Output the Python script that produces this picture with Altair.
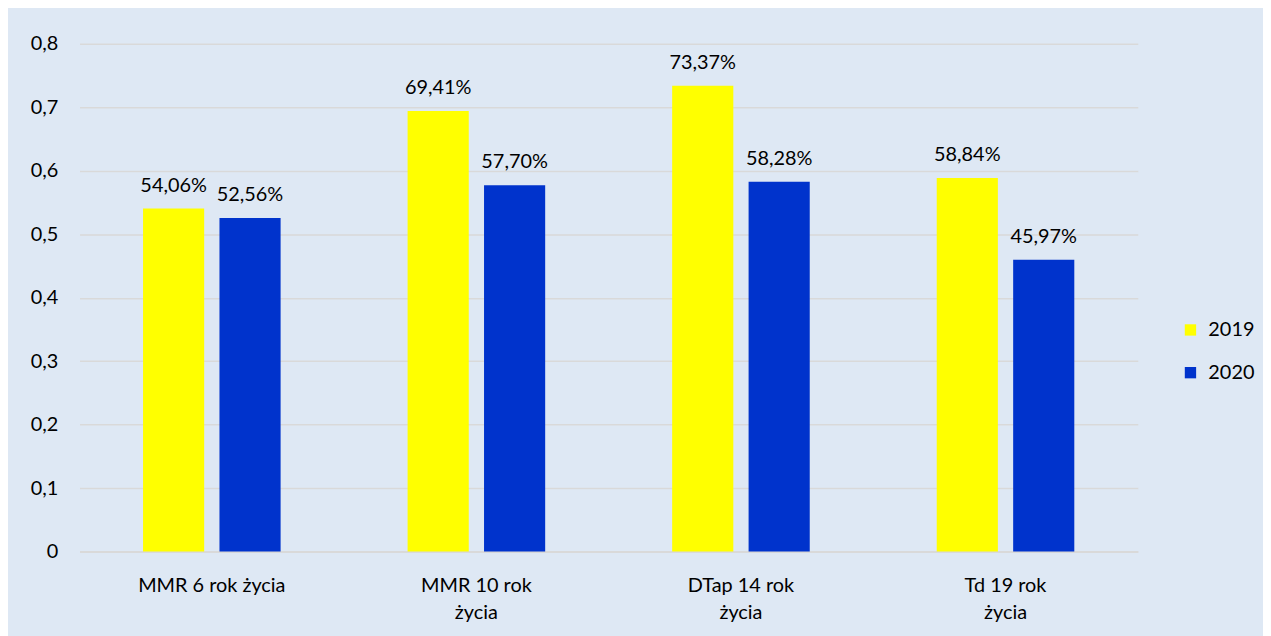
import altair as alt
import pandas as pd

categories = ["MMR 6 rok życia", "MMR 10 rok\nżycia", "DTap 14 rok\nżycia", "Td 19 rok\nżycia"]
years = ["2019", "2020"]
values_2019 = [0.5406, 0.6941, 0.7337, 0.5884]
values_2020 = [0.5256, 0.5770, 0.5828, 0.4597]
y_ticks = [0, 0.1, 0.2, 0.3, 0.4, 0.5, 0.6, 0.7, 0.8]

rows = []
for c, a, b in zip(categories, values_2019, values_2020):
    for yr, v in (("2019", a), ("2020", b)):
        rows.append({"cat": c, "year": yr, "value": v,
                     "label": f"{v*100:.2f}%".replace(".", ",")})
df = pd.DataFrame(rows)

FONT = "Lato"
FS = 20
color = alt.Color("year:N", scale=alt.Scale(domain=years, range=["#ffff00", "#0033cc"]),
                  legend=alt.Legend(title=None, orient="none", legendX=1108, legendY=278,
                                    symbolType="square", symbolSize=130, symbolStrokeWidth=0,
                                    labelFontSize=FS, labelFont=FONT, labelColor="#000000",
                                    rowPadding=23, labelOffset=8))

x = alt.X("cat:N", sort=categories, title=None,
          scale=alt.Scale(paddingInner=0.48, paddingOuter=0.24),
          axis=alt.Axis(labelAngle=0, labelExpr="split(datum.label, '\\n')",
                        labelFontSize=FS, labelFont=FONT, labelColor="#000000",
                        labelPadding=24, labelLineHeight=27, ticks=False,
                        domainColor="#d9d9d9", domainWidth=2, grid=False))
y = alt.Y("value:Q", title=None, scale=alt.Scale(domain=[0, 0.8], nice=False),
          axis=alt.Axis(values=y_ticks, labelExpr="replace(format(datum.value, '.1~f'), '.', ',')",
                        labelFontSize=FS, labelFont=FONT, labelColor="#000000",
                        labelPadding=22, ticks=False, domain=False,
                        gridColor="#d9d9d9", gridWidth=1.5))
xoff = alt.XOffset("year:N", sort=years, scale=alt.Scale(paddingInner=0.2, paddingOuter=0))

base = alt.Chart(df)
bars = base.mark_bar().encode(x=x, y=y, xOffset=xoff, color=color)
text = base.mark_text(baseline="bottom", dy=-13, fontSize=FS, font=FONT, color="#000000").encode(
    x=alt.X("cat:N", sort=categories), y="value:Q", xOffset=xoff, text="label:N")

chart = (bars + text).properties(
    width=1065, height=511,
    autosize=alt.AutoSizeParams(type="none"),
    padding={"left": 72, "top": 34, "right": 126, "bottom": 83},
    background="#dee8f4",
).configure_view(stroke=None)

chart.save("out.html", embed_options={"renderer": "svg", "actions": False})
